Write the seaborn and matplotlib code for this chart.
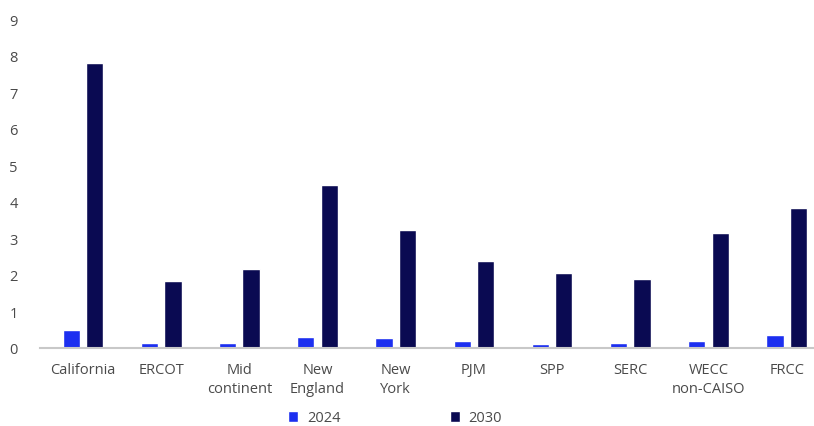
import matplotlib
matplotlib.use("Agg")
import matplotlib.pyplot as plt
import seaborn as sns
import pandas as pd

regions = ["California", "ERCOT", "Mid\ncontinent", "New\nEngland", "New\nYork",
           "PJM", "SPP", "SERC", "WECC\nnon-CAISO", "FRCC"]
values_2024 = [0.5, 0.13, 0.15, 0.3, 0.27, 0.18, 0.12, 0.13, 0.2, 0.35]
values_2030 = [7.8, 1.82, 2.17, 4.45, 3.22, 2.37, 2.04, 1.9, 3.15, 3.82]
years = ["2024", "2030"]
yticks = list(range(0, 10))

df = pd.DataFrame({
    "region": regions * 2,
    "year": [years[0]] * len(regions) + [years[1]] * len(regions),
    "value": values_2024 + values_2030,
})

sns.set_theme(style="white")
plt.rcParams["font.family"] = ["Open Sans", "DejaVu Sans"]

fig = plt.figure(figsize=(8.14, 4.27), dpi=100)
ax = fig.add_axes([40 / 814, 78 / 427, 1 - 40 / 814, (349 - 20) / 427])

sns.barplot(data=df, x="region", y="value", hue="year", order=regions,
            hue_order=years, palette=["#1c2ff0", "#0a0a52"], width=0.6, gap=0.26,
            saturation=1, ax=ax, legend=True)

ax.set_ylim(0, 9)
ax.set_yticks(yticks)
ax.set_xlim(-0.55, 9.35)
ax.set_xlabel("")
ax.set_ylabel("")
for s in ["top", "right", "left"]:
    ax.spines[s].set_visible(False)
ax.spines["bottom"].set_color("#c8c8c8")
ax.spines["bottom"].set_linewidth(1.5)
ax.tick_params(axis="both", length=0, labelsize=10.5, colors="#4a4a4a")
ax.tick_params(axis="y", pad=16)
ax.tick_params(axis="x", pad=10)
for lbl in ax.get_xticklabels():
    lbl.set_linespacing(1.35)

leg = ax.legend(loc="center", bbox_to_anchor=(395 / 814, 8 / 427),
                bbox_transform=fig.transFigure, ncol=2, frameon=False,
                handlelength=0.7, handleheight=0.7, columnspacing=7.5,
                handletextpad=0.6, fontsize=10.5)
for t in leg.get_texts():
    t.set_color("#4a4a4a")

fig.savefig("out.png", dpi=100)
